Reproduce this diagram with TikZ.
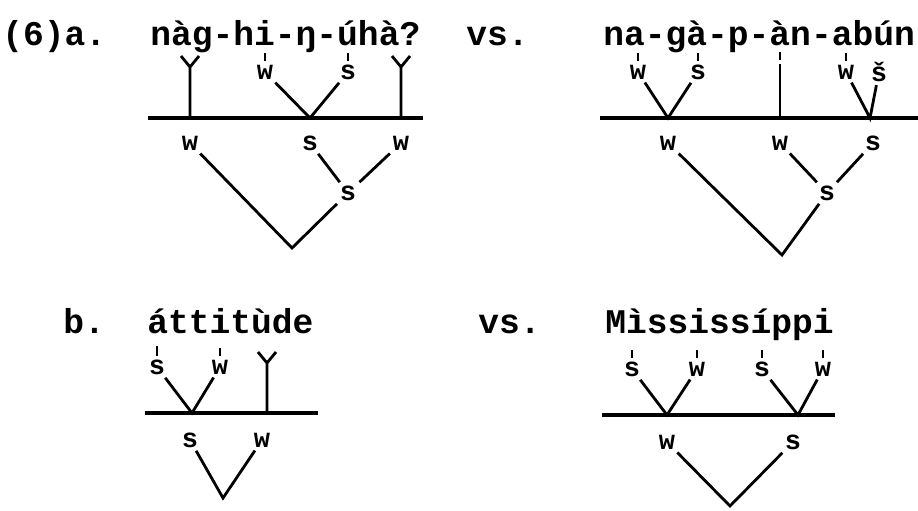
\documentclass[tikz,border=0pt]{standalone}
\usepackage{fontspec}
\setmonofont{Liberation Mono}
\usetikzlibrary{positioning, calc}

\begin{document}
\begin{tikzpicture}[x=0.5pt, y=-0.5pt, word/.style={anchor=base west, inner sep=0pt, font=\fontsize{17.3}{20}\ttfamily\bfseries}, lab/.style={inner sep=1.5pt, font=\fontsize{13.5}{15}\ttfamily\bfseries}, tie/.style={line width=1.4pt}, tick/.style={line width=0.8pt}, bar/.style={line width=2pt}]
\useasboundingbox (0,0) rectangle (918,510);
\node[word] (Num) at (2,45) {(6)a.};
\node[word] (Nag) at (150,45) {nàg-hi-ŋ-úhà?};
\node[word] (VsA) at (466,45) {vs.};
\node[word] (Naga) at (603,45) {na-gà-p-àn-abún};
\node[word] (NumB) at (63,333) {b.};
\node[word] (Att) at (147,333) {áttitùde};
\node[word] (VsB) at (478,333) {vs.};
\node[word] (Miss) at (605,333) {Mìssissíppi};
\node[lab] (NagW) at (265,72) {w};
\node[lab] (NagS) at (348,72) {s};
\coordinate (NagY1) at (190,67);
\coordinate (NagY2) at (401,67);
\coordinate (NagV) at (310,118);
\coordinate (NagBarL) at (148,118);
\coordinate (NagBarR) at (423,118);
\draw[bar] (NagBarL) -- (NagBarR);
\draw[tick] (NagW.north) -- ++(0,-8);
\draw[tick] (NagS.north) -- ++(0,-8);
\draw[tie] (NagW) -- (NagV) -- (NagS);
\draw[tie] ($(NagY1)+(-9,-11)$) -- (NagY1) -- ($(NagY1)+(9,-11)$) (NagY1) -- (NagY1 |- NagV);
\draw[tie] ($(NagY2)+(-9,-11)$) -- (NagY2) -- ($(NagY2)+(9,-11)$) (NagY2) -- (NagY2 |- NagV);
\node[lab] (NagLW1) at (190,143) {w};
\node[lab] (NagLS) at (310,143) {s};
\node[lab] (NagLW2) at (401,143) {w};
\node[lab] (NagMS) at (348,193) {s};
\coordinate (NagB) at (292,248);
\draw[tie] (NagLS) -- (NagMS) -- (NagLW2);
\draw[tie] (NagLW1) -- (NagB) -- (NagMS);
\node[lab] (NagaW1) at (638,72) {w};
\node[lab] (NagaS1) at (698,72) {s};
\node[lab] (NagaW2) at (846,72) {w};
\node[lab] (NagaS2) at (879,72) {š};
\coordinate (NagaV1) at (668,118);
\coordinate (NagaV2) at (870,118);
\coordinate (NagaT) at (780,118);
\coordinate (NagaBarL) at (600,118);
\coordinate (NagaBarR) at (918,118);
\draw[bar] (NagaBarL) -- (NagaBarR);
\draw[tick] (NagaW1.north) -- ++(0,-8);
\draw[tick] (NagaS1.north) -- ++(0,-8);
\draw[tick] (NagaW2.north) -- ++(0,-8);
\draw[tick] ($(NagaT)+(0,-66)$) -- ++(0,8);
\draw[tie] (NagaT) -- ++(0,-54);
\draw[tie] (NagaW1) -- (NagaV1) -- (NagaS1);
\draw[tie] (NagaW2) -- (NagaV2) -- (NagaS2);
\node[lab] (NagaLW1) at (668,143) {w};
\node[lab] (NagaLW2) at (780,143) {w};
\node[lab] (NagaLS) at (873,143) {s};
\node[lab] (NagaMS) at (827,193) {s};
\coordinate (NagaB) at (782,255);
\draw[tie] (NagaLW2) -- (NagaMS) -- (NagaLS);
\draw[tie] (NagaLW1) -- (NagaB) -- (NagaMS);
\node[lab] (AttS) at (157,367) {s};
\node[lab] (AttW) at (220,367) {w};
\coordinate (AttY) at (267,363);
\coordinate (AttV) at (192,413);
\coordinate (AttBarL) at (145,413);
\coordinate (AttBarR) at (318,413);
\draw[bar] (AttBarL) -- (AttBarR);
\draw[tick] (AttS.north) -- ++(0,-10);
\draw[tick] (AttW.north) -- ++(0,-8);
\draw[tie] (AttS) -- (AttV) -- (AttW);
\draw[tie] ($(AttY)+(-9,-11)$) -- (AttY) -- ($(AttY)+(9,-11)$) (AttY) -- (AttY |- AttV);
\node[lab] (AttLS) at (190,440) {s};
\node[lab] (AttLW) at (262,440) {w};
\coordinate (AttB) at (223,498);
\draw[tie] (AttLS) -- (AttB) -- (AttLW);
\node[lab] (MissS1) at (632,369) {s};
\node[lab] (MissW1) at (697,369) {w};
\node[lab] (MissS2) at (762,369) {s};
\node[lab] (MissW2) at (823,369) {w};
\coordinate (MissV1) at (667,415);
\coordinate (MissV2) at (798,415);
\coordinate (MissBarL) at (602,415);
\coordinate (MissBarR) at (835,415);
\draw[bar] (MissBarL) -- (MissBarR);
\draw[tick] (MissS1.north) -- ++(0,-8);
\draw[tick] (MissW1.north) -- ++(0,-8);
\draw[tick] (MissS2.north) -- ++(0,-8);
\draw[tick] (MissW2.north) -- ++(0,-8);
\draw[tie] (MissS1) -- (MissV1) -- (MissW1);
\draw[tie] (MissS2) -- (MissV2) -- (MissW2);
\node[lab] (MissLW) at (667,442) {w};
\node[lab] (MissLS) at (793,442) {s};
\coordinate (MissB) at (730,506);
\draw[tie] (MissLW) -- (MissB) -- (MissLS);
\end{tikzpicture}
\end{document}
